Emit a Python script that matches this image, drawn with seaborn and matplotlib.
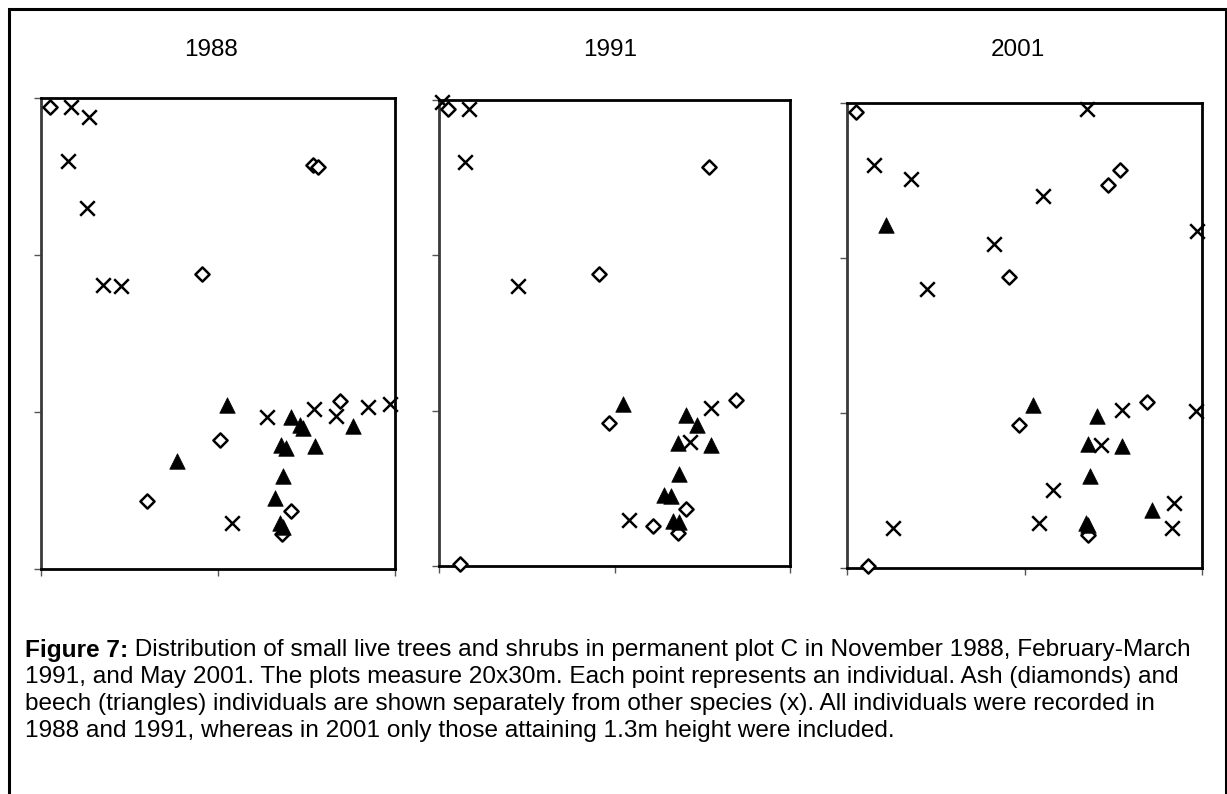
import matplotlib
matplotlib.use("Agg")
import matplotlib.pyplot as plt
import seaborn as sns
import pandas as pd
from matplotlib.patches import Rectangle

sns.set_theme(style="white")
plt.rcParams['font.family'] = ['Liberation Sans', 'DejaVu Sans']
plt.rcParams['text.color'] = 'black'

# ---------------- data (metres, plot 20 x 30 m) ----------------
years = ["1988", "1991", "2001"]

ash_x_1988 = [0.5, 15.35, 15.65, 9.1, 16.9, 10.1, 6.0, 14.1, 13.6]
ash_y_1988 = [29.4, 25.75, 25.6, 18.8, 10.7, 8.2, 4.3, 3.7, 2.2]
beech_x_1988 = [10.5, 14.1, 14.65, 14.8, 17.6, 13.55, 13.85, 15.5, 7.7, 13.7, 13.2, 13.5, 13.65]
beech_y_1988 = [10.45, 9.7, 9.2, 9.0, 9.1, 7.9, 7.7, 7.85, 6.85, 5.95, 4.5, 2.9, 2.7]
other_x_1988 = [1.7, 2.7, 1.5, 2.6, 3.5, 4.5, 12.75, 15.45, 16.65, 18.5, 19.7, 10.8]
other_y_1988 = [29.4, 28.8, 26.0, 23.0, 18.1, 18.0, 9.65, 10.2, 9.75, 10.3, 10.5, 2.95]

ash_x_1991 = [0.5, 15.4, 9.1, 16.9, 9.7, 14.1, 12.2, 13.6, 1.2]
ash_y_1991 = [29.4, 25.7, 18.8, 10.7, 9.2, 3.7, 2.6, 2.1, 0.1]
beech_x_1991 = [10.5, 14.1, 14.7, 13.6, 15.5, 13.7, 12.8, 13.2, 13.35, 13.65]
beech_y_1991 = [10.45, 9.7, 9.1, 7.9, 7.8, 5.9, 4.6, 4.5, 2.9, 2.85]
other_x_1991 = [0.15, 1.7, 1.5, 4.5, 15.5, 14.3, 10.8]
other_y_1991 = [29.9, 29.4, 26.0, 18.0, 10.15, 8.0, 2.95]

ash_x_2001 = [0.5, 15.4, 14.7, 9.1, 16.9, 9.7, 13.55, 1.2]
ash_y_2001 = [29.4, 25.7, 24.7, 18.8, 10.7, 9.25, 2.15, 0.1]
beech_x_2001 = [2.2, 10.5, 14.1, 13.55, 15.5, 13.7, 17.2, 13.45, 13.55]
beech_y_2001 = [22.1, 10.5, 9.8, 8.0, 7.85, 5.95, 3.75, 2.9, 2.8]
other_x_2001 = [13.5, 1.5, 3.6, 11.05, 19.7, 8.3, 4.5, 15.5, 19.65, 14.3, 11.6, 18.4, 2.6, 10.8, 18.3]
other_y_2001 = [29.6, 26.0, 25.1, 24.0, 21.75, 20.9, 18.0, 10.2, 10.15, 7.95, 5.05, 4.2, 2.55, 2.9, 2.55]

x_ticks = [0, 10, 20]
y_ticks = [0, 10, 20, 30]

caption_bold = "Figure 7:"
caption_lines = [
    " Distribution of small live trees and shrubs in permanent plot C in November 1988, February-March",
    "1991, and May 2001. The plots measure 20x30m. Each point represents an individual. Ash (diamonds) and",
    "beech (triangles) individuals are shown separately from other species (x). All individuals were recorded in",
    "1988 and 1991, whereas in 2001 only those attaining 1.3m height were included.",
]

data = {
    "1988": (ash_x_1988, ash_y_1988, beech_x_1988, beech_y_1988, other_x_1988, other_y_1988),
    "1991": (ash_x_1991, ash_y_1991, beech_x_1991, beech_y_1991, other_x_1991, other_y_1991),
    "2001": (ash_x_2001, ash_y_2001, beech_x_2001, beech_y_2001, other_x_2001, other_y_2001),
}

# ---------------- figure ----------------
W, H = 1227, 794
fig = plt.figure(figsize=(W / 100, H / 100), dpi=100)
fig.patch.set_facecolor("white")

# axes boxes in pixels: left, top, right, bottom
boxes = [(41, 98, 395, 569), (439, 100, 790, 566), (847, 103, 1202, 568)]
title_x = [211, 610, 1018]

for yr, (l, t, r, b), tx in zip(years, boxes, title_x):
    ax = fig.add_axes([l / W, 1 - b / H, (r - l) / W, (b - t) / H])
    ax_x, ax_y, be_x, be_y, ot_x, ot_y = data[yr]
    df_ash = pd.DataFrame({"x": ax_x, "y": ax_y})
    df_be = pd.DataFrame({"x": be_x, "y": be_y})
    df_ot = pd.DataFrame({"x": ot_x, "y": ot_y})
    sns.scatterplot(data=df_ot, x="x", y="y", ax=ax, marker="x", s=110,
                    color="black", linewidth=1.8, clip_on=False, zorder=3)
    sns.scatterplot(data=df_ash, x="x", y="y", ax=ax, marker="D", s=52,
                    facecolor="white", edgecolor="black", linewidth=1.8,
                    clip_on=False, zorder=4)
    sns.scatterplot(data=df_be, x="x", y="y", ax=ax, marker="^", s=125,
                    color="black", edgecolor="black", linewidth=0.5,
                    clip_on=False, zorder=5)
    ax.set_xlim(0, 20)
    ax.set_ylim(0, 30)
    ax.set_xticks(x_ticks)
    ax.set_yticks(y_ticks)
    ax.set_xticklabels([])
    ax.set_yticklabels([])
    ax.set_xlabel("")
    ax.set_ylabel("")
    ax.tick_params(axis="both", direction="out", length=5, width=1,
                   color="#555555", bottom=True, left=True)
    for sp in ax.spines.values():
        sp.set_color("black")
        sp.set_linewidth(2.0)
        sp.set_visible(True)
    ax.spines["left"].set_color("#3a3a3a")
    ax.set_facecolor("white")
    fig.text(tx / W, 1 - 50 / H, yr, ha="center", va="center", fontsize=17.5,
             color="black")

# outer frame
fig.add_artist(Rectangle((9 / W, -0.02), (1226 - 9) / W, 1 - 9 / H + 0.02,
                         transform=fig.transFigure, fill=False,
                         edgecolor="black", linewidth=2.2))

# caption
fs = 17.6
line_y = [650, 677, 704, 731]
t0 = fig.text(25 / W, 1 - line_y[0] / H, caption_bold, ha="left", va="center",
              fontsize=fs, fontweight="bold", color="black")
fig.canvas.draw()
bb = t0.get_window_extent()
fig.text(bb.x1 / W, 1 - line_y[0] / H, caption_lines[0], ha="left", va="center",
         fontsize=fs, color="black")
for yy, txt in zip(line_y[1:], caption_lines[1:]):
    fig.text(25 / W, 1 - yy / H, txt, ha="left", va="center", fontsize=fs,
             color="black")

fig.savefig("out.png", dpi=100, facecolor="white")
